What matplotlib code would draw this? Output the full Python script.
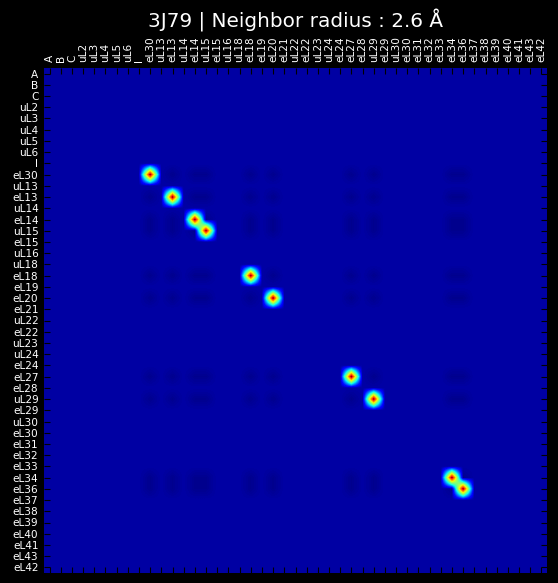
import numpy as np
import matplotlib
matplotlib.use("Agg")
import matplotlib.pyplot as plt

labels = ["A", "B", "C", "uL2", "uL3", "uL4", "uL5", "uL6", "I", "eL30",
          "uL13", "eL13", "uL14", "eL14", "uL15", "eL15", "uL16", "uL18",
          "eL18", "eL19", "eL20", "eL21", "uL22", "eL22", "uL23", "uL24",
          "eL24", "eL27", "eL28", "uL29", "eL29", "uL30", "eL30", "eL31",
          "eL32", "eL33", "eL34", "eL36", "eL37", "eL38", "eL39", "eL40",
          "eL41", "eL43", "eL42"]

# chains that have neighbors within the radius (row/column index)
active = [9, 11, 13, 14, 18, 20, 27, 29, 36, 37]
diag_value = 1.0
cross_value = -0.02

n = len(labels)
mat = np.zeros((n, n))
for i in active:
    for j in active:
        mat[i, j] = diag_value if i == j else cross_value

fig = plt.figure(figsize=(5.58, 5.83), dpi=100, facecolor="black")
ax = fig.add_axes([44 / 558, 1 - 573 / 583, 503 / 558, 505 / 583])
ax.imshow(mat, cmap="jet", interpolation="bilinear", vmin=-0.035, vmax=1.0,
          aspect="auto")

ax.set_xticks(range(n))
ax.set_yticks(range(n))
ax.set_xticklabels(labels, rotation=90, fontsize=7.6, color="white")
ax.set_yticklabels(labels, fontsize=7.6, color="white")
ax.xaxis.tick_top()
ax.tick_params(axis="both", which="both", direction="in", length=4,
               color="black", top=True, bottom=True, left=True, right=True,
               labeltop=True, labelbottom=False, pad=4)
for s in ax.spines.values():
    s.set_visible(False)

fig.text(295.5 / 558, 1 - 20 / 583, "3J79 | Neighbor radius : 2.6 Å",
         ha="center", va="center", fontsize=14.4, color="white")

fig.savefig("out.png", dpi=100, facecolor="black")
